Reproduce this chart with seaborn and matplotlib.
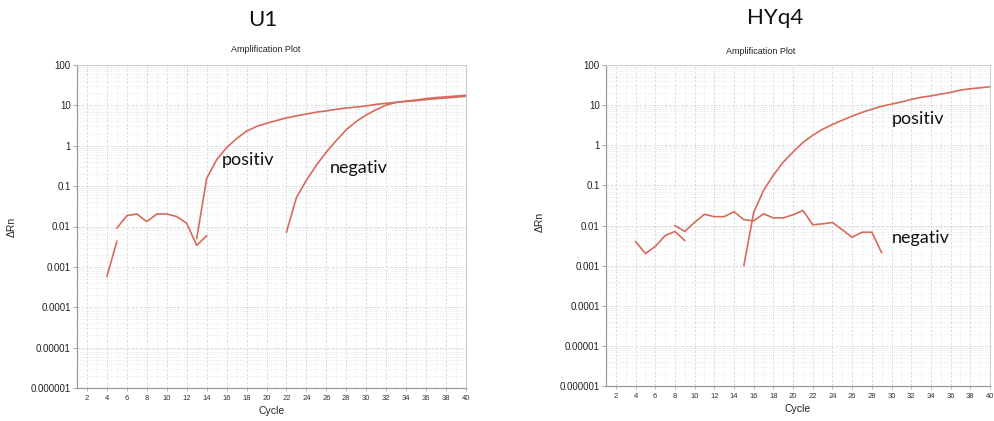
import numpy as np
import pandas as pd
import matplotlib
matplotlib.use("Agg")
import matplotlib.pyplot as plt
import matplotlib.ticker as mticker
import seaborn as sns

sns.set_theme(style="white")
plt.rcParams["font.family"] = ["Liberation Sans", "DejaVu Sans"]

LINE_COLOR = "#d66b5c"

# ---- U1 run ----
u1_pos_cycles = list(range(13, 41))
u1_pos_values = [0.005, 0.155, 0.45, 0.9, 1.5, 2.3, 3.0, 3.6, 4.2, 4.9, 5.5, 6.1,
                 6.8, 7.3, 8.0, 8.6, 9.1, 9.7, 10.6, 11.3, 11.9, 12.5, 13.1, 13.9,
                 14.6, 15.3, 16.0, 16.8]
u1_neg_cycles = list(range(22, 41))
u1_neg_values = [0.0072, 0.052, 0.14, 0.33, 0.7, 1.35, 2.5, 4.0, 5.8, 7.8, 10.2,
                 11.8, 12.8, 13.6, 14.8, 15.6, 16.3, 17.0, 17.8]
u1_base1_cycles = [4, 5]
u1_base1_values = [0.00058, 0.0043]
u1_base2_cycles = list(range(5, 15))
u1_base2_values = [0.0091, 0.0186, 0.0204, 0.0132, 0.0204, 0.0204, 0.0176, 0.012,
                   0.0034, 0.0059]

# ---- HYq4 run ----
hy_pos_cycles = list(range(15, 41))
hy_pos_values = [0.001, 0.021, 0.075, 0.18, 0.38, 0.68, 1.17, 1.78, 2.5, 3.3, 4.2,
                 5.3, 6.6, 7.9, 9.4, 10.6, 12.0, 13.9, 15.6, 17.0, 18.8, 20.8,
                 23.7, 25.6, 27.0, 28.7]
hy_base1_cycles = list(range(4, 10))
hy_base1_values = [0.004, 0.002, 0.003, 0.0056, 0.0071, 0.0042]
hy_base2_cycles = list(range(8, 30))
hy_base2_values = [0.01, 0.0071, 0.012, 0.019, 0.0166, 0.0166, 0.022, 0.014, 0.013,
                   0.0195, 0.0155, 0.0155, 0.0185, 0.0237, 0.0104, 0.011, 0.0119,
                   0.0078, 0.0051, 0.0068, 0.0068, 0.0021]

y_tick_values = [1e-6, 1e-5, 1e-4, 1e-3, 1e-2, 1e-1, 1, 10, 100]
y_tick_labels = ["0.000001", "0.00001", "0.0001", "0.001", "0.01", "0.1", "1", "10", "100"]
x_tick_values = list(range(2, 41, 2))

W, H = 994, 421
fig = plt.figure(figsize=(W / 100, H / 100), dpi=100)
fig.patch.set_facecolor("white")


def px_axes(x0, y0, x1, y1):
    return fig.add_axes([x0 / W, 1 - y1 / H, (x1 - x0) / W, (y1 - y0) / H])


ax1 = px_axes(77, 65, 466, 388)
ax2 = px_axes(606, 65, 990, 386)


def draw_segments(ax, segments):
    for cyc, val in segments:
        df = pd.DataFrame({"Cycle": cyc, "dRn": val})
        sns.lineplot(data=df, x="Cycle", y="dRn", ax=ax, color=LINE_COLOR,
                     linewidth=1.2, estimator=None, sort=False)


def style_axes(ax, ylabel_xy):
    ax.set_yscale("log")
    ax.set_ylim(1e-6, 100)
    ax.set_xlim(1, 40)
    ax.set_yticks(y_tick_values)
    ax.set_yticklabels(y_tick_labels)
    ax.yaxis.set_minor_locator(mticker.LogLocator(base=10, subs=np.arange(2, 10), numticks=20))
    ax.yaxis.set_minor_formatter(mticker.NullFormatter())
    ax.set_xticks(x_tick_values)
    ax.set_xticklabels([str(v) for v in x_tick_values])
    ax.xaxis.set_minor_locator(mticker.MultipleLocator(1))
    ax.grid(True, which="major", color="#d6d6d6", linestyle=(0, (3, 2)), linewidth=0.6)
    ax.grid(True, which="minor", color="#e4e4e4", linestyle=(0, (1.5, 1.5)), linewidth=0.5)
    ax.set_axisbelow(True)
    for side in ["left", "bottom"]:
        ax.spines[side].set_color("#9a9a9a")
        ax.spines[side].set_linewidth(0.9)
    for side in ["top", "right"]:
        ax.spines[side].set_color("#d0d0d0")
        ax.spines[side].set_linewidth(0.8)
    ax.tick_params(axis="y", which="major", labelsize=7, colors="#9a9a9a",
                   labelcolor="#222222", length=3, width=0.6, left=True, pad=1.5)
    ax.tick_params(axis="x", which="major", labelsize=5.5, colors="#9a9a9a",
                   labelcolor="#333333", length=2, width=0.5, bottom=True, pad=3)
    ax.tick_params(which="minor", length=0)
    ax.set_xlabel("Cycle", fontsize=7.5, color="#222222", labelpad=3)
    ax.set_ylabel("ΔRn", fontsize=7.5, color="#222222")
    ax.yaxis.set_label_coords(*ylabel_xy)


draw_segments(ax1, [(u1_base1_cycles, u1_base1_values),
                    (u1_base2_cycles, u1_base2_values),
                    (u1_pos_cycles, u1_pos_values),
                    (u1_neg_cycles, u1_neg_values)])
draw_segments(ax2, [(hy_base1_cycles, hy_base1_values),
                    (hy_base2_cycles, hy_base2_values),
                    (hy_pos_cycles, hy_pos_values)])
style_axes(ax1, (-0.154, 0.50))
style_axes(ax2, (-0.159, 0.51))

note_font = dict(family=["Lato", "DejaVu Sans"], fontsize=13, color="#111111", va="center", ha="left")
ax1.text(15.5, 0.45, "positiv", **note_font)
ax1.text(26.3, 0.28, "negativ", **note_font)
ax2.text(30.0, 4.6, "positiv", **note_font)
ax2.text(30.0, 0.0048, "negativ", **note_font)

title_font = dict(family=["Lato", "DejaVu Sans"], fontsize=16, color="#111111", ha="center", va="center")
fig.text(263 / W, 1 - 20 / H, "U1", **title_font)
fig.text(775 / W, 1 - 18 / H, "HYq4", **title_font)
fig.text(266 / W, 1 - 50 / H, "Amplification Plot", fontsize=6.5, color="#222222", ha="center", va="center")
fig.text(761 / W, 1 - 51 / H, "Amplification Plot", fontsize=6.5, color="#222222", ha="center", va="center")

fig.savefig("out.png", dpi=100, facecolor="white")
